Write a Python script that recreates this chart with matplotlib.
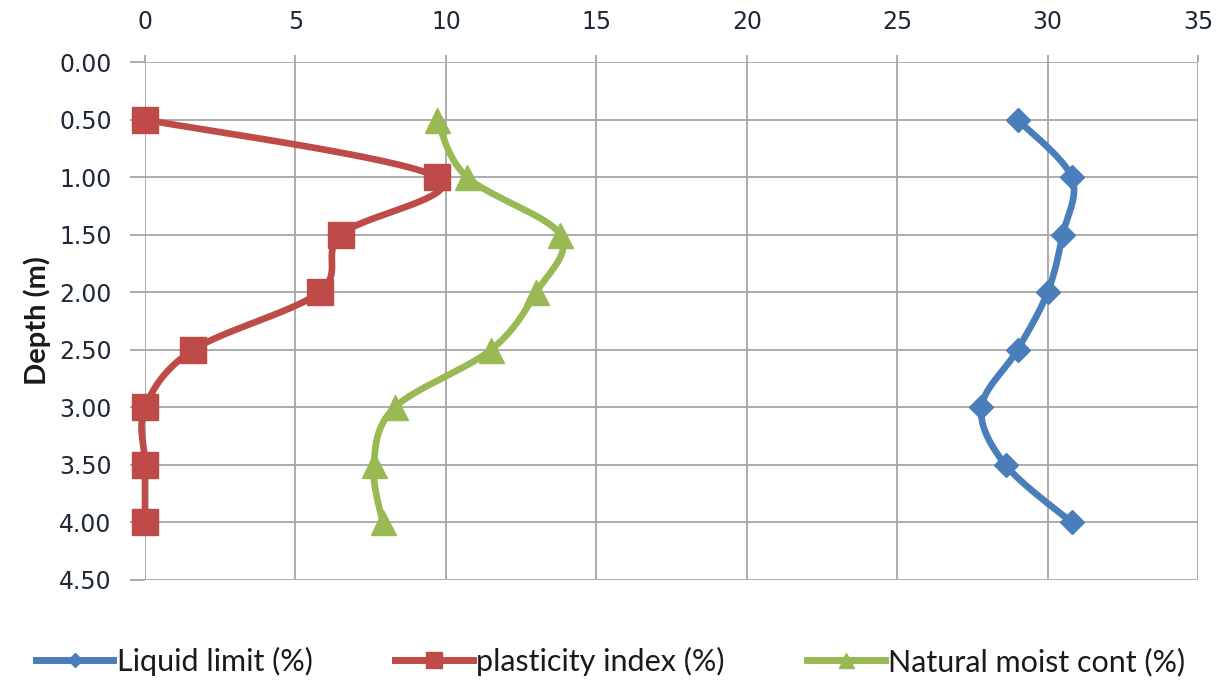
import numpy as np
import matplotlib.pyplot as plt
from matplotlib.lines import Line2D

depth = [0.5, 1.0, 1.5, 2.0, 2.5, 3.0, 3.5, 4.0]
liquid_limit = [29.0, 30.8, 30.5, 30.0, 29.0, 27.8, 28.6, 30.8]
plasticity_index = [0.0, 9.7, 6.5, 5.8, 1.6, 0.0, 0.0, 0.0]
natural_moist = [9.7, 10.7, 13.8, 13.0, 11.5, 8.3, 7.6, 7.9]

x_ticks = [0, 5, 10, 15, 20, 25, 30, 35]
y_ticks = [0.0, 0.5, 1.0, 1.5, 2.0, 2.5, 3.0, 3.5, 4.0, 4.5]

# Excel-style smoothing: bezier with control points p1 + (p2 - p0)/6, done in pixel space
SX, SY = 30.08, 230.0


def smooth(xs, ys, n=40):
    pts = np.column_stack([np.array(xs) * SX, np.array(ys) * SY])
    ext = np.vstack([pts[0], pts, pts[-1]])
    out = []
    for i in range(1, len(ext) - 2):
        p0, p1, p2, p3 = ext[i - 1], ext[i], ext[i + 1], ext[i + 2]
        c1 = p1 + (p2 - p0) / 6
        c2 = p2 - (p3 - p1) / 6
        t = np.linspace(0, 1, n)[:, None]
        seg = ((1 - t) ** 3) * p1 + 3 * ((1 - t) ** 2) * t * c1 + 3 * (1 - t) * t ** 2 * c2 + t ** 3 * p2
        out.append(seg)
    out = np.vstack(out)
    return out[:, 0] / SX, out[:, 1] / SY


fig = plt.figure(figsize=(12.23, 6.82), dpi=100)
ax = fig.add_axes([0.1186, 0.1496, 0.861, 0.7594])

series = [
    (liquid_limit, '#4a7ebb', 'D', 12, 'Liquid limit (%)'),
    (plasticity_index, '#be4b48', 's', 19, 'plasticity index (%)'),
    (natural_moist, '#98b954', '^', 18, 'Natural moist cont (%)'),
]

handles = []
for vals, col, mk, ms, lab in series:
    sx, sy = smooth(vals, depth)
    ax.plot(sx, sy, color=col, lw=4.8, solid_capstyle='round', zorder=3, clip_on=False)
    ax.plot(vals, depth, ls='none', marker=mk, ms=ms, color=col, zorder=4, clip_on=False)
    handles.append(Line2D([], [], color=col, lw=5, marker=mk, ms=ms * 0.6, label=lab))

tick_col = '#1e2837'
ax.set_xlim(0, 35)
ax.set_ylim(4.5, 0)
ax.set_xticks(x_ticks)
ax.set_yticks(y_ticks)
ax.set_yticklabels(['%.2f' % v for v in y_ticks])
ax.xaxis.tick_top()
ax.grid(True, color='#a6a6a6', lw=1.3)
ax.set_axisbelow(True)
for s in ax.spines.values():
    s.set_visible(False)
ax.tick_params(axis='y', length=11, color='#a6a6a6', width=1.3, labelsize=17, labelcolor=tick_col, pad=13)
ax.tick_params(axis='x', length=5, color='#a6a6a6', width=1.3, labelsize=17, labelcolor=tick_col, pad=15)
ax.set_ylabel('Depth (m)', fontsize=21, fontweight='bold', family='Lato', color='#1a1a1a', labelpad=6)

leg = fig.legend(handles=handles, loc='center', ncol=3, frameon=False,
                 bbox_to_anchor=(0.499, 0.03), handlelength=2.55, handletextpad=0.1,
                 columnspacing=2.7, prop={'family': 'Lato', 'size': 22})
for t in leg.get_texts():
    t.set_color('#1a1a1a')

fig.savefig('out.png', dpi=100)
